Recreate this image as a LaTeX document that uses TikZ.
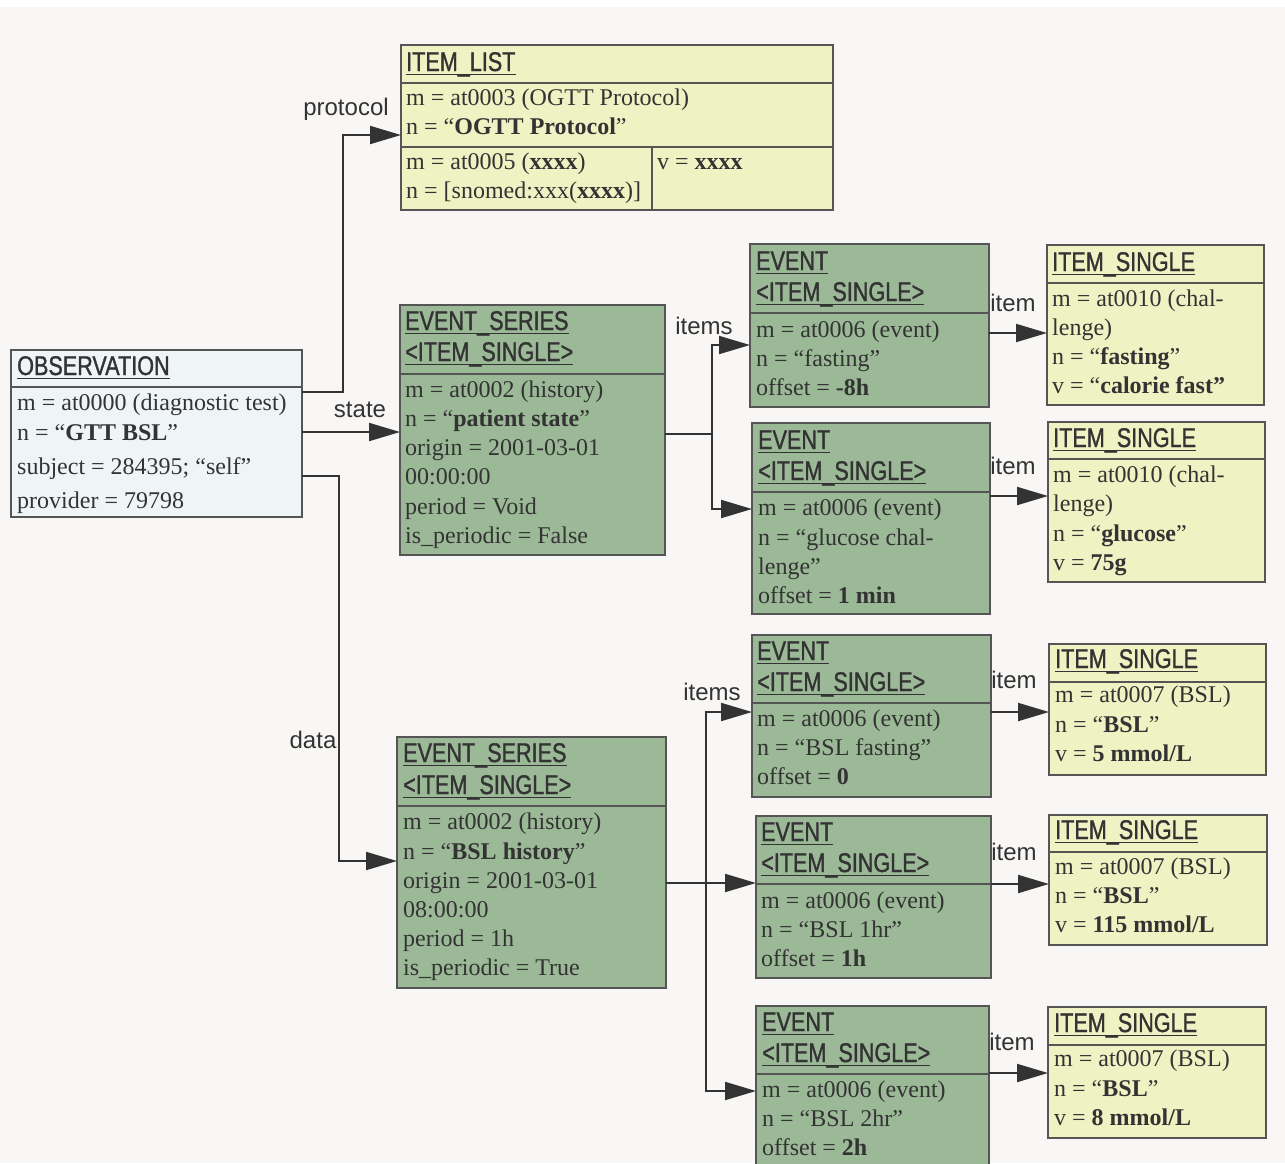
\documentclass[tikz,border=0pt]{standalone}
\usepackage{fontspec}
\setmainfont{Liberation Serif}
\newfontfamily\labelfont{Liberation Sans}
\newfontfamily\titlefont[FakeStretch=0.8,FakeBold=1.2]{Liberation Sans}
\usetikzlibrary{arrows.meta}
\definecolor{bg}{RGB}{248,247,245}
\definecolor{ylw}{RGB}{239,242,194}
\definecolor{grn}{RGB}{155,185,151}
\definecolor{blu}{RGB}{239,245,247}
\definecolor{ink}{RGB}{51,51,51}
\definecolor{edge}{RGB}{85,85,85}
\newcounter{tl}
\newcommand\tline[3]{\stepcounter{tl}\node[txt] (tl\arabic{tl}) at (#1,#2+8) {#3};}
\newcommand\ttitle[3]{\stepcounter{tl}\node[ttl] (tl\arabic{tl}) at (#1,#2+10) {#3};
  \draw[uline] ([yshift=-3.5pt]tl\arabic{tl}.base west) -- ([yshift=-3.5pt]tl\arabic{tl}.base east);}
\newcommand\lbl[4]{\node[lab] (#1) at (#2,#3) {#4};}
\tikzset{
  txt/.style={anchor=base west, inner sep=0pt, font=\fontsize{24}{28}\selectfont, text=ink},
  ttl/.style={anchor=base west, inner sep=0pt, font=\titlefont\fontsize{27}{30}\selectfont, text=ink},
  uline/.style={draw=ink, line width=1.6pt},
  lab/.style={inner sep=0pt, font=\labelfont\fontsize{24}{28}\selectfont, text=ink},
  box/.style={draw=edge, line width=1.2pt, anchor=north west, inner sep=0pt, outer sep=0pt},
  divl/.style={draw=edge, line width=1.2pt},
  wire/.style={draw=ink, line width=2pt},
  conn/.style={draw=ink, line width=2pt, -{Triangle[length=31pt,width=18pt]}},
}
\begin{document}
\begin{tikzpicture}[x=1pt,y=-1pt]
\useasboundingbox (0,0) rectangle (1285,1163);
\fill[white] (0,0) rectangle (1285,1163);
\fill[bg] (0,7) rectangle (1285,1163);

% ---------- ITEM_LIST
\node[box, fill=ylw, minimum width=432pt, minimum height=165pt] (il) at (401,45) {};
\draw[divl] (il.west |- 0,83) -- (il.east |- 0,83);
\draw[divl] (il.west |- 0,147) -- (il.east |- 0,147);
\draw[divl] (652,147) -- (il.south -| 652,0);
\ttitle{406}{61}{ITEM\_LIST}
\tline{406}{97}{m = at0003 (OGTT Protocol)}
\tline{406}{126}{n = “\textbf{OGTT Protocol}”}
\tline{406}{161}{m = at0005 (\textbf{xxxx})}
\tline{406}{190}{n = [snomed:xxx(\textbf{xxxx})]}
\tline{657}{161}{v = \textbf{xxxx}}

% ---------- OBSERVATION
\node[box, fill=blu, minimum width=291pt, minimum height=167pt] (obs) at (11,350) {};
\draw[divl] (obs.west |- 0,387) -- (obs.east |- 0,387);
\ttitle{17}{365}{OBSERVATION}
\tline{17}{402}{m = at0000 (diagnostic test)}
\tline{17}{432}{n = “\textbf{GTT BSL}”}
\tline{17}{466}{subject = 284395; “self”}
\tline{17}{500}{provider = 79798}

% ---------- EVENT_SERIES 1
\node[box, fill=grn, minimum width=265pt, minimum height=250pt] (es1) at (400,305) {};
\draw[divl] (es1.west |- 0,374) -- (es1.east |- 0,374);
\ttitle{405}{320}{EVENT\_SERIES\ }
\ttitle{405}{351}{<ITEM\_SINGLE>}
\tline{405}{389}{m = at0002 (history)}
\tline{405}{418}{n = “\textbf{patient state}”}
\tline{405}{447}{origin = 2001-03-01}
\tline{405}{476}{00:00:00}
\tline{405}{506}{period = Void}
\tline{405}{535}{is\_periodic = False}

% ---------- EVENT 1
\node[box, fill=grn, minimum width=239pt, minimum height=163pt] (ev1) at (750,244) {};
\draw[divl] (ev1.west |- 0,313) -- (ev1.east |- 0,313);
\ttitle{756}{260}{EVENT}
\ttitle{756}{291}{<ITEM\_SINGLE>}
\tline{756}{329}{m = at0006 (event)}
\tline{756}{358}{n = “fasting”}
\tline{756}{387}{offset = \textbf{-8h}}

% ---------- ITEM_SINGLE 1
\node[box, fill=ylw, minimum width=217pt, minimum height=160pt] (is1) at (1047,245) {};
\draw[divl] (is1.west |- 0,283) -- (is1.east |- 0,283);
\ttitle{1052}{261}{ITEM\_SINGLE}
\tline{1052}{298}{m = at0010 (chal-}
\tline{1052}{327}{lenge)}
\tline{1052}{356}{n = “\textbf{fasting}”}
\tline{1052}{385}{v = “\textbf{calorie fast”}}

% ---------- EVENT 2
\node[box, fill=grn, minimum width=238pt, minimum height=191pt] (ev2) at (752,423) {};
\draw[divl] (ev2.west |- 0,492) -- (ev2.east |- 0,492);
\ttitle{758}{439}{EVENT}
\ttitle{758}{470}{<ITEM\_SINGLE>}
\tline{758}{507}{m = at0006 (event)}
\tline{758}{537}{n = “glucose chal-}
\tline{758}{566}{lenge”}
\tline{758}{595}{offset = \textbf{1 min}}

% ---------- ITEM_SINGLE 2
\node[box, fill=ylw, minimum width=217pt, minimum height=160pt] (is2) at (1048,422) {};
\draw[divl] (is2.west |- 0,459) -- (is2.east |- 0,459);
\ttitle{1053}{437}{ITEM\_SINGLE}
\tline{1053}{474}{m = at0010 (chal-}
\tline{1053}{503}{lenge)}
\tline{1053}{533}{n = “\textbf{glucose}”}
\tline{1053}{562}{v = \textbf{75g}}

% ---------- EVENT_SERIES 2
\node[box, fill=grn, minimum width=269pt, minimum height=251pt] (es2) at (397,737) {};
\draw[divl] (es2.west |- 0,806) -- (es2.east |- 0,806);
\ttitle{403}{752}{EVENT\_SERIES\ }
\ttitle{403}{784}{<ITEM\_SINGLE>}
\tline{403}{821}{m = at0002 (history)}
\tline{403}{851}{n = “\textbf{BSL history}”}
\tline{403}{880}{origin = 2001-03-01}
\tline{403}{909}{08:00:00}
\tline{403}{938}{period = 1h}
\tline{403}{967}{is\_periodic = True}

% ---------- EVENT 3
\node[box, fill=grn, minimum width=239pt, minimum height=162pt] (ev3) at (752,635) {};
\draw[divl] (ev3.west |- 0,703) -- (ev3.east |- 0,703);
\ttitle{757}{650}{EVENT}
\ttitle{757}{681}{<ITEM\_SINGLE>}
\tline{757}{718}{m = at0006 (event)}
\tline{757}{747}{n = “BSL fasting”}
\tline{757}{776}{offset = \textbf{0}}

% ---------- ITEM_SINGLE 3
\node[box, fill=ylw, minimum width=217pt, minimum height=131pt] (is3) at (1049,644) {};
\draw[divl] (is3.west |- 0,682) -- (is3.east |- 0,682);
\ttitle{1055}{658}{ITEM\_SINGLE}
\tline{1055}{694}{m = at0007 (BSL)}
\tline{1055}{724}{n = “\textbf{BSL}”}
\tline{1055}{753}{v = \textbf{5 mmol/L}}

% ---------- EVENT 4
\node[box, fill=grn, minimum width=235pt, minimum height=162pt] (ev4) at (756,816) {};
\draw[divl] (ev4.west |- 0,884) -- (ev4.east |- 0,884);
\ttitle{761}{831}{EVENT}
\ttitle{761}{862}{<ITEM\_SINGLE>}
\tline{761}{900}{m = at0006 (event)}
\tline{761}{929}{n = “BSL 1hr”}
\tline{761}{958}{offset = \textbf{1h}}

% ---------- ITEM_SINGLE 4
\node[box, fill=ylw, minimum width=218pt, minimum height=130pt] (is4) at (1049,815) {};
\draw[divl] (is4.west |- 0,852) -- (is4.east |- 0,852);
\ttitle{1055}{829}{ITEM\_SINGLE}
\tline{1055}{866}{m = at0007 (BSL)}
\tline{1055}{895}{n = “\textbf{BSL}”}
\tline{1055}{924}{v = \textbf{115 mmol/L}}

% ---------- EVENT 5
\node[box, fill=grn, minimum width=233pt, minimum height=170pt] (ev5) at (756,1006) {};
\draw[divl] (ev5.west |- 0,1074) -- (ev5.east |- 0,1074);
\ttitle{762}{1021}{EVENT}
\ttitle{762}{1052}{<ITEM\_SINGLE>}
\tline{762}{1089}{m = at0006 (event)}
\tline{762}{1118}{n = “BSL 2hr”}
\tline{762}{1147}{offset = \textbf{2h}}

% ---------- ITEM_SINGLE 5
\node[box, fill=ylw, minimum width=218pt, minimum height=131pt] (is5) at (1048,1007) {};
\draw[divl] (is5.west |- 0,1045) -- (is5.east |- 0,1045);
\ttitle{1054}{1022}{ITEM\_SINGLE}
\tline{1054}{1058}{m = at0007 (BSL)}
\tline{1054}{1088}{n = “\textbf{BSL}”}
\tline{1054}{1117}{v = \textbf{8 mmol/L}}

% ---------- connectors
\draw[conn] (obs.east |- 0,392) -- (343,392) -- (343,135) -- (il.west |- 0,135);
\draw[conn] (obs.east |- 0,432) -- (es1.west |- 0,432);
\draw[conn] (obs.east |- 0,476) -- (339,476) -- (339,861) -- (es2.west |- 0,861);

\coordinate (j1) at (712,434);
\draw[wire] (es1.east |- j1) -- (j1);
\draw[conn] (j1) |- (ev1.west |- 0,345);
\draw[conn] (j1) |- (ev2.west |- 0,509);

\coordinate (j2) at (706,883);
\draw[conn] (es2.east |- j2) -- (ev4.west |- j2);
\draw[conn] (j2) |- (ev3.west |- 0,712);
\draw[conn] (j2) |- (ev5.west |- 0,1091);

\draw[conn] (ev1.east |- 0,333) -- (is1.west |- 0,333);
\draw[conn] (ev2.east |- 0,496) -- (is2.west |- 0,496);
\draw[conn] (ev3.east |- 0,712) -- (is3.west |- 0,712);
\draw[conn] (ev4.east |- 0,884) -- (is4.west |- 0,884);
\draw[conn] (ev5.east |- 0,1073) -- (is5.west |- 0,1073);

% ---------- labels
\lbl{lprot}{346}{109}{protocol}
\lbl{lstate}{360}{410}{state}
\lbl{ldata}{313}{740}{data}
\lbl{litems1}{704}{326}{items}
\lbl{litems2}{712}{692}{items}
\lbl{litem1}{1013}{303}{item}
\lbl{litem2}{1013}{466}{item}
\lbl{litem3}{1014}{680}{item}
\lbl{litem4}{1014}{852}{item}
\lbl{litem5}{1012}{1042}{item}
\end{tikzpicture}
\end{document}
